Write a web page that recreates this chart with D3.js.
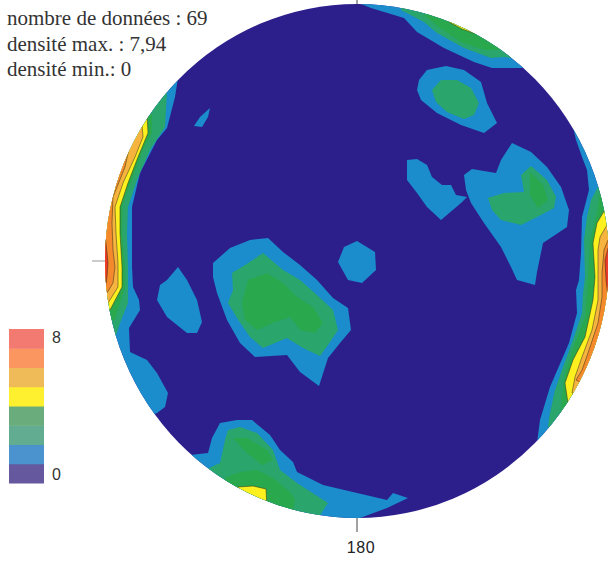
<!DOCTYPE html>
<html><head><meta charset="utf-8">
<style>html,body{margin:0;padding:0;background:#fff;overflow:hidden}svg{display:block}</style>
<script src="https://cdn.jsdelivr.net/npm/d3@7"></script></head><body>
<script>
// Header text and axis label
const infoLines = ["nombre de données : 69", "densité max. : 7,94", "densité min.: 0"];
const azimuthLabel = "180";
const legendTicks = [{band: 7, text: "8"}, {band: 0, text: "0"}];
const densityBands = [0, 1, 2, 3, 4, 5, 6, 7];
const bandColors   = ["#2c1f8c", "#1b8dcc", "#2aa56c", "#2aa84e", "#fdf01e", "#f6b43f", "#f58a2c", "#ea3b2a"];
const legendColors = ["#65589f", "#4a93cf", "#62ac92", "#6bac7c", "#fff02f", "#eebb58", "#fb9661", "#f37a70"];

// Contour outlines in net units [east of centre, south of centre]
const band1 = [
 [[-179,-183],[-182,-164],[-190,-133],[-200,-121],[-217,-88],[-225,-54],[-225,6],[-224,26],[-218,39],[-217,49],[-228,67],[-227,91],[-210,99],[-200,112],[-189,132],[-192,146],[-200,152],[-217,159],[-267,1],[-237,-131],[-187,-201]],
 [[215,-138],[219,-121],[225,-104],[230,-91],[232,-71],[225,-44],[224,-8],[222,19],[219,29],[220,52],[212,82],[193,126],[183,159],[180,182],[203,189],[268,39],[263,-131]],
 [[4,-257],[14,-253],[47,-243],[60,-229],[87,-213],[117,-199],[135,-193],[167,-193],[203,-201],[143,-271],[13,-271]],
 [[62,-181],[70,-191],[89,-195],[107,-191],[124,-179],[130,-158],[140,-138],[127,-128],[104,-136],[80,-148],[64,-161],[60,-171]],
 [[50,-101],[60,-102],[70,-96],[75,-84],[85,-76],[94,-76],[99,-66],[110,-64],[104,-58],[84,-41],[70,-54],[60,-68],[50,-81]],
 [[107,-86],[115,-92],[139,-88],[144,-101],[155,-118],[174,-109],[190,-94],[204,-74],[212,-51],[210,-34],[186,-18],[180,11],[178,24],[160,19],[154,6],[144,-14],[127,-38],[114,-58],[109,-71]],
 [[0,-20],[18,-9],[19,9],[5,22],[-9,19],[-19,1],[-13,-14]],
 [[-147,-153],[-149,-144],[-155,-134],[-163,-135],[-157,-144]],
 [[-179,6],[-170,19],[-160,39],[-155,61],[-160,72],[-170,72],[-190,56],[-200,39],[-197,24],[-190,19]],
 [[-144,2],[-127,-13],[-107,-21],[-89,-23],[-74,-9],[-57,4],[-40,19],[-24,37],[-9,47],[-6,69],[-17,82],[-29,97],[-38,125],[-57,111],[-70,94],[-102,96],[-117,82],[-130,59],[-140,32],[-144,16]],
 [[-167,194],[-149,192],[-145,177],[-137,162],[-120,159],[-105,159],[-87,174],[-77,189],[-64,201],[-60,211],[-34,224],[30,239],[36,232],[51,237],[30,247],[3,257],[-7,269],[-157,229],[-177,199]]
];
const band2 = [
 [[-190,-169],[-192,-134],[-207,-111],[-220,-81],[-229,-54],[-230,-28],[-229,6],[-229,29],[-229,42],[-237,62],[-242,77],[-267,79],[-267,-61],[-217,-171]],
 [[242,-76],[234,-61],[230,-44],[227,-21],[228,16],[226,32],[225,52],[216,79],[206,106],[198,129],[193,152],[191,166],[213,179],[268,39],[263,-91]],
 [[44,-251],[67,-239],[80,-228],[107,-213],[134,-203],[147,-204],[154,-203],[183,-221],[93,-271],[44,-266]],
 [[75,-171],[84,-181],[100,-181],[114,-173],[122,-158],[117,-146],[107,-142],[90,-149],[79,-159]],
 [[131,-63],[147,-68],[167,-69],[164,-86],[174,-95],[190,-81],[199,-64],[197,-53],[180,-44],[164,-36],[144,-41],[135,-51]],
 [[-125,12],[-112,4],[-94,-8],[-74,9],[-57,19],[-40,34],[-24,49],[-19,69],[-29,84],[-37,95],[-54,87],[-70,77],[-94,87],[-107,76],[-120,57],[-129,42],[-124,29]],
 [[-152,209],[-137,202],[-132,179],[-129,169],[-117,166],[-100,172],[-84,189],[-77,209],[-60,222],[-29,242],[-37,254],[-57,269],[-157,229]]
];
const band3 = [
 [[-205,-146],[-205,-128],[-214,-111],[-225,-81],[-234,-58],[-235,-28],[-232,6],[-232,26],[-237,42],[-242,59],[-267,59],[-267,-61],[-227,-151]],
 [[243,-71],[240,-48],[233,-21],[231,16],[230,32],[228,56],[218,82],[208,112],[205,132],[203,159],[223,169],[268,39],[263,-81]],
 [[67,-246],[83,-233],[104,-219],[127,-211],[144,-211],[173,-231],[93,-261]],
 [[173,-89],[186,-76],[191,-61],[181,-53],[173,-66]],
 [[-109,19],[-90,12],[-74,22],[-60,36],[-44,46],[-34,62],[-42,72],[-57,69],[-67,56],[-84,62],[-100,69],[-112,59],[-115,42]],
 [[-132,217],[-117,211],[-100,209],[-84,217],[-67,231],[-62,239],[-64,249],[-77,259],[-132,234]],
 [[-124,177],[-110,177],[-90,189],[-84,199],[-95,204],[-110,192]]
];
const band4 = [
 [[-210,-146],[-209,-128],[-219,-104],[-229,-78],[-237,-54],[-237,-28],[-235,6],[-235,26],[-247,49],[-267,49],[-267,-61],[-227,-151]],
 [[249,-53],[240,-38],[236,-18],[238,16],[236,39],[228,76],[216,99],[208,122],[211,142],[233,149],[268,39],[263,-61]],
 [[92,-239],[105,-232],[119,-227],[133,-236],[103,-251]],
 [[-119,226],[-104,225],[-91,228],[-90,249],[-122,239]]
];
const band5 = [
 [[-215,-136],[-214,-124],[-222,-104],[-234,-78],[-242,-54],[-241,-28],[-239,2],[-239,26],[-249,42],[-267,42],[-267,-61],[-227,-141]],
 [[250,-36],[243,-24],[241,-11],[241,16],[241,39],[235,69],[225,96],[218,116],[215,132],[233,139],[268,39],[263,-41]]
];
const band6 = [
 [[-226,-121],[-232,-94],[-244,-64],[-245,-38],[-244,-11],[-242,6],[-244,22],[-250,32],[-267,32],[-267,-61]],
 [[251,-21],[247,-11],[245,12],[245,36],[241,62],[231,92],[225,109],[219,119],[238,129],[268,39],[263,-26]]
];
const band7 = [
 [[-252,-26],[-250,-8],[-249,2],[-250,16],[-252,29],[-267,29],[-267,-26]],
 [[251,-13],[248,-1],[249,19],[251,36],[268,36],[268,-13]]
];
const contourBands = [band1, band2, band3, band4, band5, band6, band7];

const svg = d3.select("body").append("svg").attr("width", 608).attr("height", 561);
svg.append("rect").attr("width", 608).attr("height", 561).attr("fill", "#fff");

const x = d3.scaleLinear().domain([-252, 252]).range([105, 609]);
const y = d3.scaleLinear().domain([-257, 257]).range([4, 518]);
const line = d3.line().x(d => x(d[0])).y(d => y(d[1])).curve(d3.curveLinearClosed);

svg.append("clipPath").attr("id", "net").append("ellipse")
  .attr("cx", x(0)).attr("cy", y(0)).attr("rx", x(252) - x(0)).attr("ry", y(257) - y(0));

const net = svg.append("g").attr("clip-path", "url(#net)");
net.append("rect").attr("x", x(-252)).attr("y", y(-257))
  .attr("width", x(252) - x(-252)).attr("height", y(257) - y(-257)).attr("fill", bandColors[0]);

contourBands.forEach((rings, i) => {
  const level = i + 1;
  net.append("g").selectAll("path").data(rings).join("path")
    .attr("d", line)
    .attr("fill", bandColors[level])
    .attr("stroke", level >= 4 ? "#2a2a18" : "none")
    .attr("stroke-opacity", level >= 4 ? 0.7 : 0)
    .attr("stroke-width", level >= 4 ? 0.7 : 0);
});

// Ticks at the rim
const tickStyle = s => s.attr("stroke", "#444").attr("stroke-width", 1);
svg.append("line").attr("x1", x(0)).attr("x2", x(0)).attr("y1", 0).attr("y2", y(-257)).call(tickStyle);
svg.append("line").attr("x1", x(0)).attr("x2", x(0)).attr("y1", y(257)).attr("y2", y(257) + 14).call(tickStyle);
svg.append("line").attr("x1", x(-252) - 13).attr("x2", x(-252)).attr("y1", y(0)).attr("y2", y(0))
  .attr("stroke", "#999").attr("stroke-width", 1);

svg.append("text").attr("x", x(4)).attr("y", 553).attr("text-anchor", "middle")
  .attr("font-family", "Liberation Sans").attr("font-size", 16).attr("letter-spacing", 0.6)
  .attr("fill", "#222").text(azimuthLabel);

// Header
svg.append("g").selectAll("text").data(infoLines).join("text")
  .attr("x", 7).attr("y", (d, i) => [25, 51, 76][i])
  .attr("font-family", "Liberation Serif").attr("font-size", 21).attr("fill", "#333").text(d => d);

// Density legend
const legendY = d3.scaleBand().domain(densityBands.slice().reverse()).range([329, 483]);
svg.append("g").selectAll("rect").data(densityBands).join("rect")
  .attr("x", 9).attr("width", 35)
  .attr("y", d => legendY(d)).attr("height", legendY.bandwidth() + 0.5)
  .attr("fill", d => legendColors[d]);
svg.append("g").selectAll("text").data(legendTicks).join("text")
  .attr("x", 52).attr("y", d => legendY(d.band) + (d.band === 7 ? 14 : 16))
  .attr("font-family", "Liberation Sans").attr("font-size", 16).attr("fill", "#333").text(d => d.text);
</script></body></html>
